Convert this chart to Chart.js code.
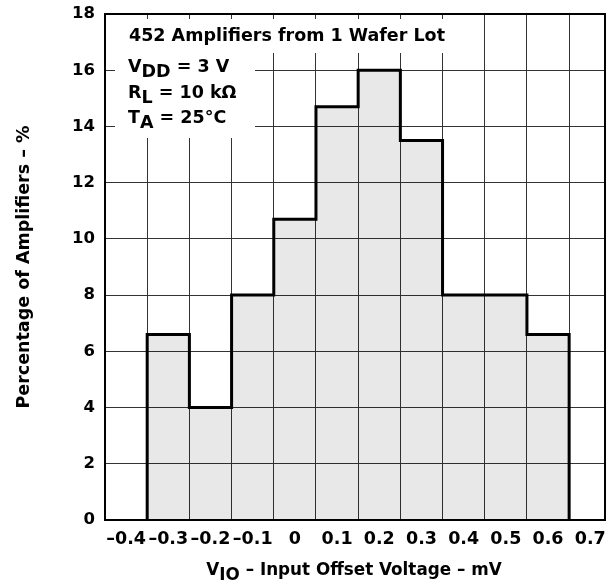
<!DOCTYPE html>
<html>
<head>
<meta charset="utf-8">
<script src="https://cdn.jsdelivr.net/npm/chart.js@4.4.1/dist/chart.umd.min.js"></script>
<style>
  html, body { margin: 0; padding: 0; background: #fff; }
  #wrap { width: 610px; height: 586px; }
</style>
</head>
<body>
<div id="wrap"><canvas id="histChart"></canvas></div>
<script>
// bin edges (mV) and percentage of amplifiers in each bin
var binEdges = [-0.35, -0.25, -0.15, -0.05, 0.05, 0.15, 0.25, 0.35, 0.45, 0.55, 0.65];
var percents = [6.6, 4.0, 8.0, 10.7, 14.7, 16.0, 13.5, 8.0, 8.0, 6.6];
var xTickLabels = [-0.4, -0.3, -0.2, -0.1, 0, 0.1, 0.2, 0.3, 0.4, 0.5, 0.6, 0.7];
var yTicks = [0, 2, 4, 6, 8, 10, 12, 14, 16, 18];

// outline points for a stepped line: up at first edge, down at last edge
var stepPoints = [{ x: binEdges[0], y: 0 }];
for (var i = 0; i < percents.length; i++) {
  stepPoints.push({ x: binEdges[i], y: percents[i] });
}
stepPoints.push({ x: binEdges[binEdges.length - 1], y: 0 });

var FONT = "'DejaVu Sans', sans-serif";
var gridColor = "#333";

// text with subscripts, parts = [[text, isSub], ...]
function drawRich(ctx, parts, x, y, size, align) {
  ctx.font = "bold " + size + "px " + FONT;
  var total = 0;
  parts.forEach(function (p) { total += ctx.measureText(p[0]).width; });
  var cx = align === "center" ? x - total / 2 : x;
  parts.forEach(function (p) {
    ctx.fillText(p[0], cx, p[1] ? y + 5 : y);
    cx += ctx.measureText(p[0]).width;
  });
}

var decorPlugin = {
  id: "decor",
  afterDraw: function (chart) {
    var ctx = chart.ctx;
    var a = chart.chartArea;
    ctx.save();
    // white boxes behind the notes
    ctx.fillStyle = "#fff";
    ctx.fillRect(115, 19, 350, 34);
    ctx.fillRect(115, 52, 140, 86);
    // frame
    ctx.strokeStyle = "#000";
    ctx.lineWidth = 2;
    ctx.strokeRect(a.left, a.top, a.right - a.left, a.bottom - a.top);
    // notes
    ctx.fillStyle = "#000";
    ctx.textAlign = "left";
    ctx.textBaseline = "alphabetic";
    drawRich(ctx, [["452 Amplifiers from 1 Wafer Lot", false]], 129, 41, 17.5);
    drawRich(ctx, [["V", false], ["DD", true], [" = 3 V", false]], 128, 72, 17.5);
    drawRich(ctx, [["R", false], ["L", true], [" = 10 k\u03A9", false]], 128, 98, 17.5);
    drawRich(ctx, [["T", false], ["A", true], [" = 25\u00B0C", false]], 128, 123, 17.5);
    // x axis title
    drawRich(ctx, [["V", false], ["IO", true], [" \u2013 Input Offset Voltage \u2013 mV", false]], 354, 575, 16.8, "center");
    ctx.restore();
  }
};

function noPad(scale) {
  scale.paddingTop = 0;
  scale.paddingBottom = 0;
  scale.paddingLeft = 0;
  scale.paddingRight = 0;
}

var ctx = document.getElementById("histChart").getContext("2d");
var histChart = new Chart(ctx, {
  type: "line",
  data: {
    datasets: [
      {
        data: stepPoints,
        stepped: "before",
        borderColor: "#000",
        borderWidth: 3,
        backgroundColor: "rgba(0,0,0,0.09)",
        fill: "origin",
        pointRadius: 0,
        tension: 0
      }
    ]
  },
  options: {
    responsive: true,
    maintainAspectRatio: false,
    animation: false,
    layout: { padding: { top: 14, right: 5, bottom: 0, left: 0 } },
    plugins: {
      legend: { display: false },
      tooltip: { enabled: false }
    },
    scales: {
      x: {
        type: "linear",
        min: -0.45,
        max: 0.735,
        afterBuildTicks: function (scale) {
          scale.ticks = xTickLabels.map(function (v) { return { value: v }; });
        },
        afterFit: function (scale) { scale.height = 66; noPad(scale); },
        grid: { display: false, drawTicks: false },
        border: { display: false },
        ticks: {
          color: "#000",
          padding: 9,
          maxRotation: 0,
          autoSkip: false,
          font: { family: FONT, size: 17.5, weight: "bold" },
          callback: function (v) {
            var s = String(Math.round(Math.abs(v) * 10) / 10);
            return v < 0 ? "\u2013" + s : s;
          }
        }
      },
      xg: {
        type: "linear",
        position: "bottom",
        min: -0.45,
        max: 0.735,
        afterBuildTicks: function (scale) {
          scale.ticks = binEdges.map(function (v) { return { value: v }; });
        },
        afterFit: function (scale) { scale.height = 0; noPad(scale); },
        grid: { color: gridColor, lineWidth: 1, drawTicks: false },
        border: { display: false },
        ticks: { display: false }
      },
      y: {
        min: 0,
        max: 18,
        afterBuildTicks: function (scale) {
          scale.ticks = yTicks.map(function (v) { return { value: v }; });
        },
        afterFit: function (scale) { scale.width = 105; noPad(scale); },
        grid: { color: gridColor, lineWidth: 1, drawTicks: false },
        border: { display: false },
        ticks: {
          color: "#000",
          padding: 10,
          font: { family: FONT, size: 16.5, weight: "bold" }
        },
        title: {
          display: true,
          text: "Percentage of Amplifiers \u2013 %",
          color: "#000",
          padding: { top: 14, bottom: 0 },
          font: { family: FONT, size: 17.5, weight: "bold" }
        }
      }
    }
  },
  plugins: [decorPlugin]
});
</script>
</body>
</html>
